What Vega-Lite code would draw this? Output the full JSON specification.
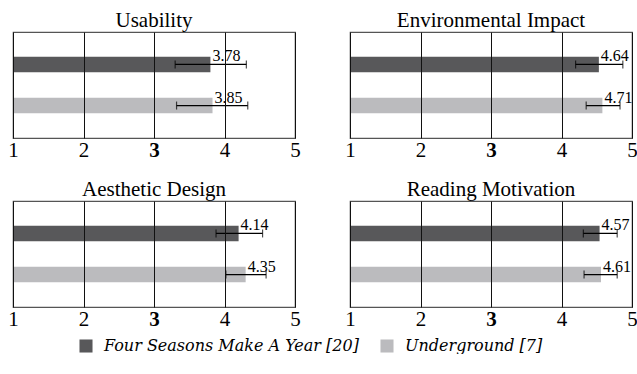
{
  "$schema": "https://vega.github.io/schema/vega-lite/v6.json",
  "padding": {"left": 7, "top": 9, "right": 0, "bottom": 0},
  "background": "white",
  "data": {"values": [
    {"category": "Usability", "group": "Four Seasons Make A Year [20]", "mean": 3.80, "lo": 3.30, "hi": 4.31, "label": "3.78"},
    {"category": "Usability", "group": "Underground [7]", "mean": 3.83, "lo": 3.32, "hi": 4.33, "label": "3.85"},
    {"category": "Environmental Impact", "group": "Four Seasons Make A Year [20]", "mean": 4.53, "lo": 4.20, "hi": 4.87, "label": "4.64"},
    {"category": "Environmental Impact", "group": "Underground [7]", "mean": 4.58, "lo": 4.35, "hi": 4.83, "label": "4.71"},
    {"category": "Aesthetic Design", "group": "Four Seasons Make A Year [20]", "mean": 4.20, "lo": 3.88, "hi": 4.54, "label": "4.14"},
    {"category": "Aesthetic Design", "group": "Underground [7]", "mean": 4.30, "lo": 4.02, "hi": 4.59, "label": "4.35"},
    {"category": "Reading Motivation", "group": "Four Seasons Make A Year [20]", "mean": 4.54, "lo": 4.31, "hi": 4.79, "label": "4.57"},
    {"category": "Reading Motivation", "group": "Underground [7]", "mean": 4.56, "lo": 4.32, "hi": 4.79, "label": "4.61"}
  ]},
  "facet": {
    "field": "category", "type": "nominal",
    "sort": ["Usability", "Environmental Impact", "Aesthetic Design", "Reading Motivation"],
    "header": {"title": null, "labelFont": "Liberation Serif", "labelFontSize": 21, "labelColor": "black", "labelPadding": 1}
  },
  "columns": 2,
  "spacing": {"column": 43, "row": 17},
  "resolve": {"axis": {"x": "independent"}},
  "spec": {
    "width": 282,
    "height": 106,
    "encoding": {
      "y": {"field": "group", "type": "nominal", "sort": ["Four Seasons Make A Year [20]", "Underground [7]"], "axis": null,
            "scale": {"paddingInner": 0.62, "paddingOuter": 0.6}}
    },
    "layer": [
      {
        "mark": {"type": "bar"},
        "encoding": {
          "x": {"field": "mean", "type": "quantitative",
                "scale": {"domain": [1, 5], "nice": false, "zero": false},
                "axis": {"values": [1, 2, 3, 4, 5], "format": "d", "grid": true, "gridColor": "#111", "gridOpacity": 1, "domain": false, "ticks": false,
                         "labelFont": "Liberation Serif", "labelFontSize": 21, "labelColor": "black", "labelPadding": 1,
                         "labelFlush": false, "labelOverlap": false, "title": null, "zindex": 1,
                         "labelFontWeight": {"condition": {"test": "datum.value === 3", "value": "bold"}, "value": "normal"}}},
          "x2": {"datum": 1},
          "color": {"field": "group", "type": "nominal",
                    "scale": {"domain": ["Four Seasons Make A Year [20]", "Underground [7]"], "range": ["#58585a", "#bbbbbe"]},
                    "legend": {"title": null, "orient": "none", "direction": "horizontal", "legendX": 65, "legendY": 306,
                               "symbolType": "square", "symbolSize": 170, "symbolStrokeWidth": 0, "symbolOpacity": 1,
                               "labelFont": "DejaVu Serif", "labelFontSize": 16, "labelFontStyle": "italic", "labelColor": "black",
                               "labelOffset": 10, "columnPadding": 20, "labelLimit": 400}}
        }
      },
      {
        "mark": {"type": "errorbar", "ticks": {"size": 8}, "color": "black", "thickness": 1.2},
        "encoding": {
          "x": {"field": "lo", "type": "quantitative"},
          "x2": {"field": "hi"}
        }
      },
      {
        "mark": {"type": "text", "align": "left", "baseline": "alphabetic", "dx": 2, "dy": -3, "font": "Liberation Serif", "fontSize": 16, "color": "black"},
        "encoding": {
          "x": {"field": "mean", "type": "quantitative"},
          "text": {"field": "label"}
        }
      }
    ]
  },
  "config": {
    "font": "Liberation Serif",
    "axis": {"labelFont": "Liberation Serif"},
    "view": {"stroke": "#555", "strokeWidth": 1.2}
  }
}
